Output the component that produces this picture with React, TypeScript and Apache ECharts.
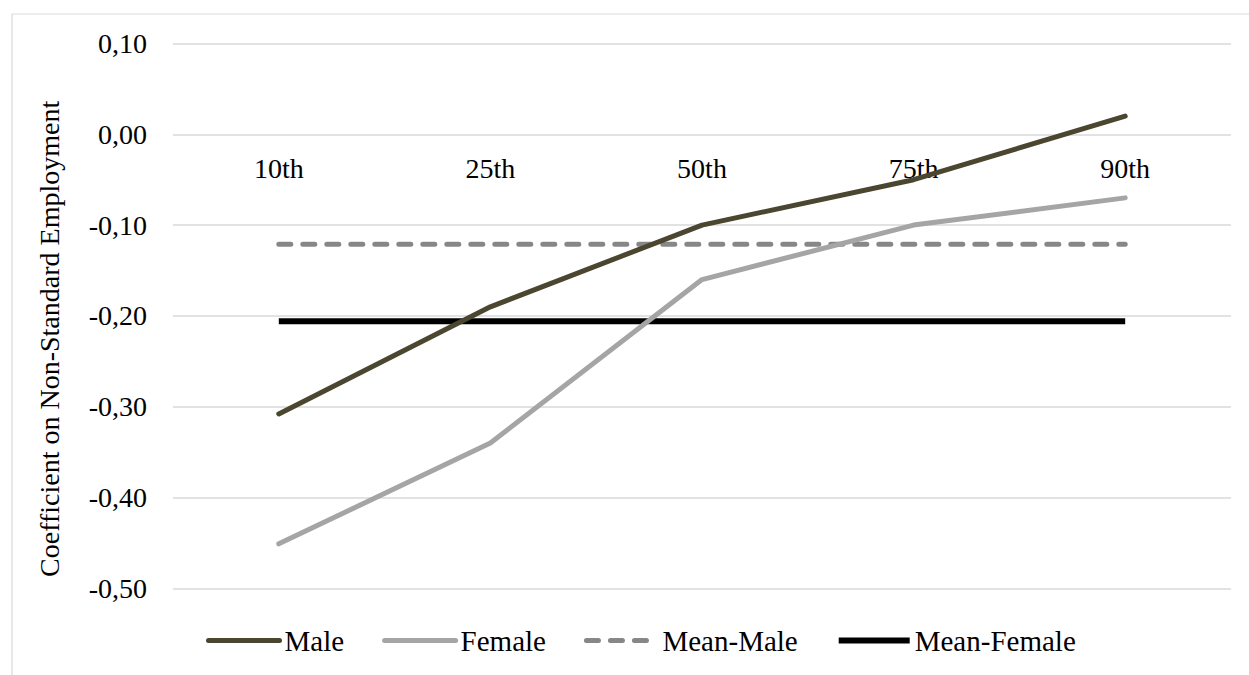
import React, { useEffect, useRef } from "react";
import * as echarts from "echarts";

const categories = ["10th", "25th", "50th", "75th", "90th"];
const male = [-0.308, -0.19, -0.1, -0.05, 0.02];
const female = [-0.451, -0.34, -0.16, -0.1, -0.07];
const meanMale = [-0.121, -0.121, -0.121, -0.121, -0.121];
const meanFemale = [-0.206, -0.206, -0.206, -0.206, -0.206];
const yTitle = "Coefficient on Non-Standard Employment";

const FONT = "'Liberation Serif', 'Times New Roman', serif";

export default function App() {
  const ref = useRef<HTMLDivElement>(null);
  useEffect(() => {
    if (!ref.current) return;
    const chart = echarts.init(ref.current, null, { renderer: "svg" });
    chart.setOption({
      animation: false,
      backgroundColor: "#ffffff",
      textStyle: { fontFamily: FONT, color: "#000" },
      grid: { left: 173, right: 18, top: 43.5, bottom: 86.7, containLabel: false },
      graphic: [
        {
          type: "rect",
          shape: { x: 12, y: 14, width: 1300, height: 700 },
          style: { fill: "none", stroke: "#d9d9d9", lineWidth: 1.2 },
          silent: true,
          z: -10,
        },
      ],
      legend: {
        left: 206,
        top: 626,
        padding: 0,
        itemWidth: 71,
        itemHeight: 5,
        itemGap: 38,
        itemStyle: { opacity: 0 },
        textStyle: { fontFamily: FONT, fontSize: 29, color: "#000" },
        data: [
          { name: "Male", lineStyle: { width: 5 } },
          { name: "Female", lineStyle: { width: 5 } },
          { name: "Mean-Male", lineStyle: { width: 5 } },
          { name: "Mean-Female", lineStyle: { width: 6 } },
        ],
      },
      xAxis: {
        type: "category",
        data: categories,
        boundaryGap: true,
        position: "bottom",
        offset: -454,
        axisLine: { show: false, onZero: false },
        axisTick: { show: false },
        axisLabel: { fontFamily: FONT, fontSize: 28, color: "#000", margin: 20 },
        splitLine: { show: false },
      },
      yAxis: {
        type: "value",
        min: -0.5,
        max: 0.1,
        interval: 0.1,
        name: yTitle,
        nameLocation: "middle",
        nameGap: 110,
        nameTextStyle: { fontFamily: FONT, fontSize: 28, color: "#000", padding: [0, 46, 0, 0] },
        axisLine: { show: false },
        axisTick: { show: false },
        axisLabel: {
          fontFamily: FONT,
          fontSize: 28,
          color: "#000",
          margin: 26,
          formatter: (v: number) => {
            const x = Math.abs(v) < 1e-9 ? 0 : v;
            return x.toFixed(2).replace(".", ",");
          },
        },
        splitLine: { show: true, lineStyle: { color: "#d9d9d9", width: 1.5 } },
      },
      series: [
        {
          name: "Mean-Male",
          type: "line",
          data: meanMale,
          symbol: "none",
          z: 2,
          lineStyle: { color: "#878787", width: 5, type: [12, 12], cap: "round" },
          itemStyle: { color: "#878787" },
        },
        {
          name: "Mean-Female",
          type: "line",
          data: meanFemale,
          symbol: "none",
          z: 2,
          lineStyle: { color: "#000000", width: 6 },
          itemStyle: { color: "#000000" },
        },
        {
          name: "Male",
          type: "line",
          data: male,
          symbol: "none",
          z: 3,
          lineStyle: { color: "#4b4630", width: 5, cap: "round", join: "round" },
          itemStyle: { color: "#4b4630" },
        },
        {
          name: "Female",
          type: "line",
          data: female,
          symbol: "none",
          z: 3,
          lineStyle: { color: "#a5a5a5", width: 5, cap: "round", join: "round" },
          itemStyle: { color: "#a5a5a5" },
        },
      ],
    });
    return () => chart.dispose();
  }, []);
  return (
    <div
      ref={ref}
      style={{ position: "fixed", left: 0, top: 0, width: 1249, height: 675, background: "#fff" }}
    />
  );
}
